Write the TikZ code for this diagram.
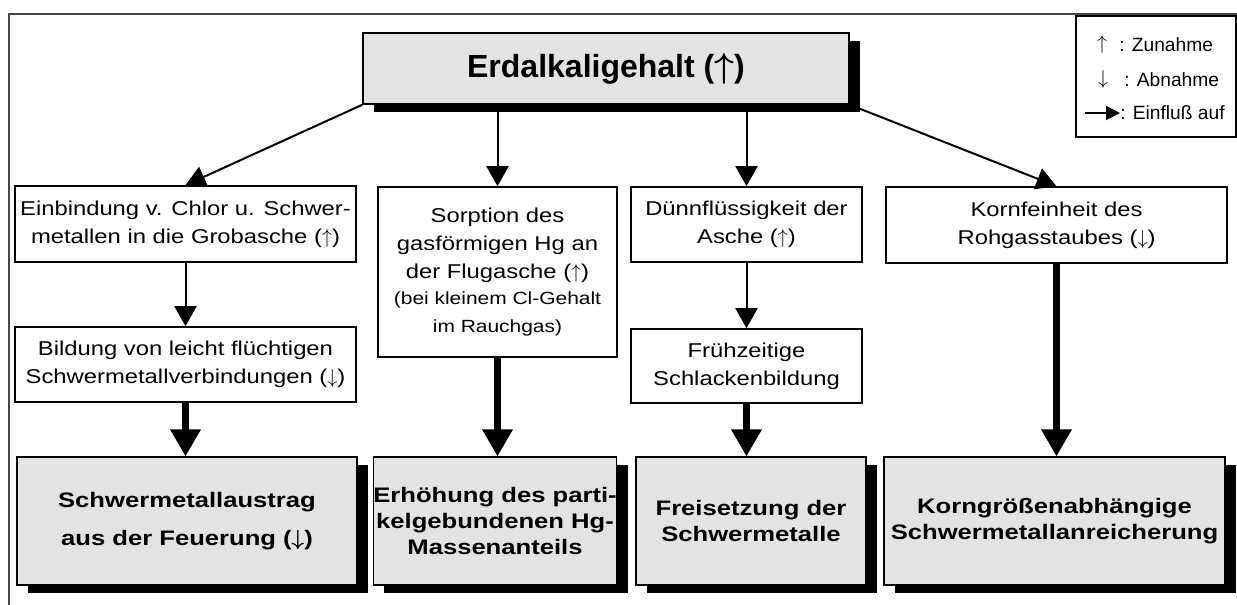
\documentclass[tikz,border=0pt]{standalone}
\usepackage{fontspec}
\setmainfont{Liberation Sans}
\newfontfamily\widefont[FakeStretch=1.19]{Liberation Sans}
\newfontfamily\widerfont[FakeStretch=1.22]{Liberation Sans}
\usetikzlibrary{arrows.meta,shadows}
\definecolor{BoxGray}{RGB}{227,227,227}
\definecolor{FrameGray}{RGB}{70,70,70}
\newcommand{\notesize}{\fontsize{8.8}{11.5}\selectfont}
\tikzset{
  effect/.style={draw,line width=0.8pt,inner sep=0pt,align=center,
    font=\widefont\fontsize{10}{14}\selectfont},
  result/.style={draw,fill=BoxGray,line width=0.6pt,inner sep=0pt,align=center,
    minimum height=64pt,
    drop shadow={shadow xshift=5.5pt,shadow yshift=-4pt,fill=black,opacity=1},
    font=\widerfont\bfseries\boldmath\fontsize{10.5}{13}\selectfont},
  influence/.style={-{Triangle[width=11pt,length=10pt]},line width=1pt},
  strongflow/.style={-{Triangle[width=14.5pt,length=13.5pt]},line width=3.25pt},
  legtext/.style={anchor=west,inner sep=0pt,font=\fontsize{9.6}{11}\selectfont},
}

\begin{document}
\begin{tikzpicture}[x=0.5pt,y=-0.5pt]
		\useasboundingbox (0,0) rectangle (1237,605);
		% border
		\draw[FrameGray,line width=0.6pt] (1237,14) -- (9,14) -- (9,605);

		% legend
		\node[draw,line width=0.6pt,minimum width=80pt,minimum height=60.5pt] (legend) at (1156,76.5) {};
		\node[inner sep=0pt] (lup) at (1102,44) {$\uparrow$};
		\node[legtext] (lzu) at (1119,45) {: Zunahme};
		\node[inner sep=0pt] (ldown) at (1103,79) {$\downarrow$};
		\node[legtext] (lab) at (1124,80) {: Abnahme};
		\coordinate (lpa) at (1085,113);
		\coordinate (lpb) at (1120,113);
		\draw[-{Triangle[width=7pt,length=7pt]},line width=1pt] (lpa) -- (lpb);
		\node[legtext] (lein) at (1120,113) {: Einflu\ss{} auf};

		% top
		\node[draw,fill=BoxGray,line width=0.8pt,inner sep=0pt,
			minimum width=243pt,minimum height=35.5pt,
			drop shadow={shadow xshift=5.5pt,shadow yshift=-4pt,fill=black,opacity=1},
			font=\bfseries\boldmath\fontsize{16}{19}\selectfont] (top) at (606,68.5) {Erdalkaligehalt ($\uparrow$)};

		% effects
		\node[effect,minimum width=170.5pt,minimum height=38pt] (A) at (185.5,224)
			{Einbindung v. Chlor u. Schwer-\\metallen in die Grobasche ($\uparrow$)};
		\node[effect,minimum width=119.5pt,minimum height=85pt] (B) at (497.5,272)
			{Sorption des\\gasf\"ormigen Hg an\\der Flugasche ($\uparrow$)\\[-1pt]
			\notesize(bei kleinem Cl-Gehalt\\\notesize im Rauchgas)};
		\node[effect,minimum width=115.5pt,minimum height=37.5pt] (C) at (746.5,224.5)
			{D\"unnfl\"ussigkeit der\\Asche ($\uparrow$)};
		\node[effect,minimum width=170.5pt,minimum height=38pt] (D) at (1056.5,225)
			{Kornfeinheit des\\Rohgasstaubes ($\downarrow$)};
		\node[effect,minimum width=170.5pt,minimum height=37.5pt] (A2) at (185.5,364.5)
			{Bildung von leicht fl\"uchtigen\\Schwermetallverbindungen ($\downarrow$)};
		\node[effect,minimum width=115.5pt,minimum height=37pt] (C2) at (746.5,366)
			{Fr\"uhzeitige\\Schlackenbildung};

		% results
		\node[result,minimum width=170pt] (E1) at (187,521)
			{Schwermetallaustrag\\[6pt]aus der Feuerung ($\downarrow$)};
		\node[result,minimum width=119pt] (E2) at (495,521)
			{Erh\"ohung des parti-\\kelgebundenen Hg-\\Massenanteils};
		\node[result,minimum width=115pt] (E3) at (751,521)
			{Freisetzung der\\Schwermetalle};
		\node[result,minimum width=170.5pt] (E4) at (1054.5,521)
			{Korngr\"o\ss enabh\"angige\\Schwermetallanreicherung};

		% arrows
		\draw[influence] (top.south west) -- (A.north);
		\draw[influence] (top.south -| B.north) -- (B.north);
		\draw[influence] (top.south -| C.north) -- (C.north);
		\draw[influence] (top.south east) -- (D.north);
		\draw[influence] (A) -- (A2);
		\draw[influence] (C) -- (C2);

		\draw[strongflow] (A2.south) -- (A2.south |- E1.north);
		\draw[strongflow] (B.south) -- (B.south |- E2.north);
		\draw[strongflow] (C2.south) -- (C2.south |- E3.north);
		\draw[strongflow] (D.south) -- (D.south |- E4.north);
\end{tikzpicture}
\end{document}
